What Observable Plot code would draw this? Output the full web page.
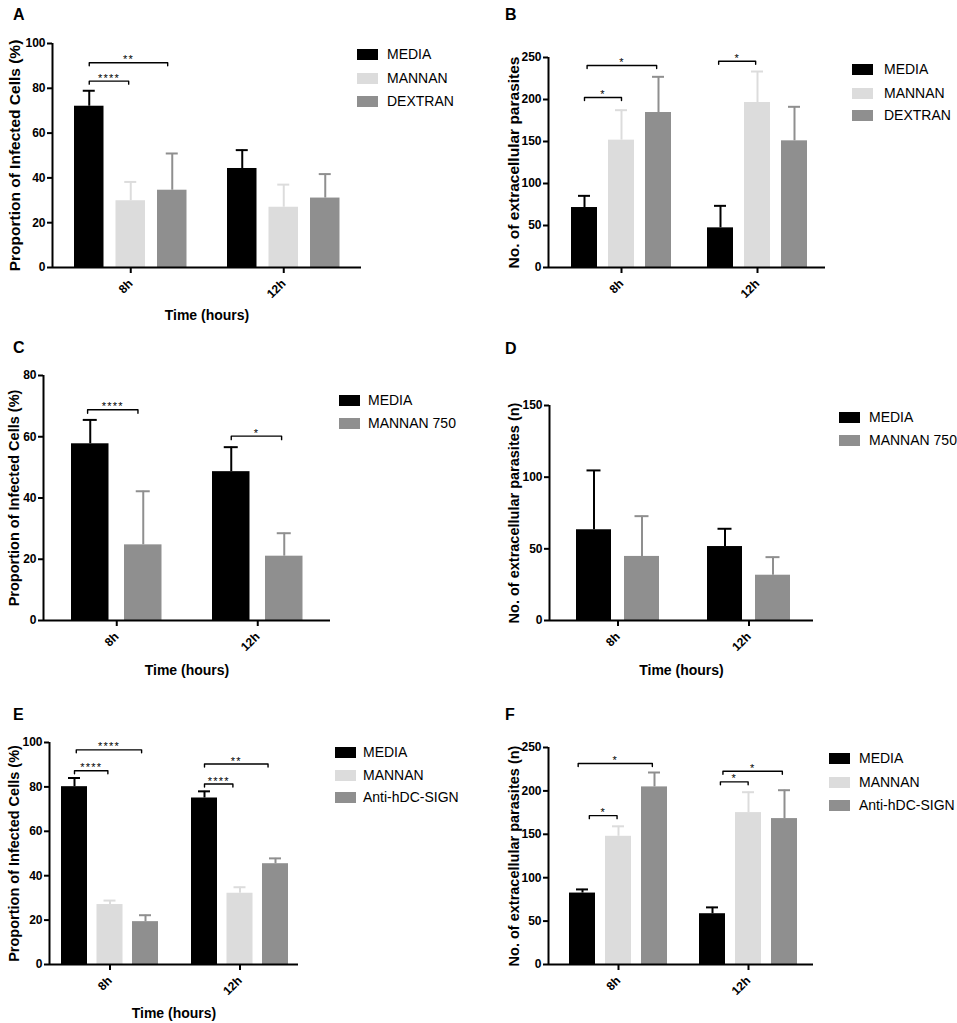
<!DOCTYPE html>
<html>
<head>
<meta charset="utf-8">
<script src="https://cdn.jsdelivr.net/npm/d3@7"></script>
<script src="https://cdn.jsdelivr.net/npm/@observablehq/plot@0.6"></script>
<style>
  html, body { margin: 0; padding: 0; background: #fff; }
  #fig { position: relative; width: 957px; height: 1023px; overflow: hidden; font-family: "Liberation Sans", Arial, sans-serif; color: #000; }
  #fig svg { position: absolute; overflow: visible; }
  .letter { position: absolute; font-weight: bold; font-size: 16px; line-height: 16px; }
  .sw { position: absolute; width: 21px; height: 11px; }
  .lt { position: absolute; font-size: 14px; line-height: 14px; white-space: nowrap; }
  g[aria-label="text"] { letter-spacing: 1.2px; }
</style>
</head>
<body>
<div id="fig"></div>
<script>
// ---------------- DATA ----------------
const times = ["8h", "12h"];

// Panel A
const groupsA = ["MEDIA", "MANNAN", "DEXTRAN"];
const meanA = [[72.0, 29.8, 34.5], [44.2, 26.9, 31.0]];
const sdA   = [[6.9, 8.4, 16.4], [8.2, 10.1, 10.7]];
const ticksA = [0, 20, 40, 60, 80, 100];
const sigA = [["8h", 0, 0.95, 83.2, "****"], ["8h", 0, 1.89, 91.4, "**"]];

// Panel B
const groupsB = ["MEDIA", "MANNAN", "DEXTRAN"];
const meanB = [[71.4, 151.6, 184.5], [47.2, 196.4, 150.8]];
const sdB   = [[13.9, 35.7, 42.5], [26.2, 36.9, 40.5]];
const ticksB = [0, 50, 100, 150, 200, 250];
const sigB = [["8h", 0, 1.0, 202.4, "*"], ["8h", 0.07, 1.95, 240.5, "*"], ["12h", -0.05, 0.95, 245.6, "*"]];

// Panel C
const groupsC = ["MEDIA", "MANNAN 750"];
const meanC = [[57.7, 24.7], [48.6, 21.0]];
const sdC   = [[7.8, 17.5], [8.0, 7.5]];
const ticksC = [0, 20, 40, 60, 80];
const sigC = [["8h", -0.05, 0.9, 68.8, "****"], ["12h", 0, 0.95, 60.2, "*"]];

// Panel D
const groupsD = ["MEDIA", "MANNAN 750"];
const meanD = [[63.3, 44.7], [51.6, 31.6]];
const sdD   = [[41.4, 28.1], [12.4, 12.6]];
const ticksD = [0, 50, 100, 150];
const sigD = [];

// Panel E
const groupsE = ["MEDIA", "MANNAN", "Anti-hDC-SIGN"];
const meanE = [[80.1, 27.0, 19.3], [75.0, 32.1, 45.4]];
const sdE   = [[3.9, 1.8, 2.9], [3.0, 2.7, 2.4]];
const ticksE = [0, 20, 40, 60, 80, 100];
const sigE = [["8h", 0, 0.94, 87.3, "****"], ["8h", 0.05, 1.89, 96.7, "****"],
              ["12h", 0, 0.8, 81.3, "****"], ["12h", 0, 1.79, 90.3, "**"]];

// Panel F
const groupsF = ["MEDIA", "MANNAN", "Anti-hDC-SIGN"];
const meanF = [[82.3, 147.7, 204.6], [58.5, 175.0, 168.1]];
const sdF   = [[4.2, 11.5, 16.6], [7.3, 23.5, 32.7]];
const ticksF = [0, 50, 100, 150, 200, 250];
const sigF = [["8h", 0.19, 0.96, 171.5, "*"], ["8h", -0.12, 1.94, 231.5, "*"],
              ["12h", 0.22, 0.99, 210.4, "*"], ["12h", 0.29, 1.94, 222.7, "*"]];

const yTitleInf = "Proportion of Infected Cells (%)";
const yTitlePar = "No. of extracellular parasites";
const yTitleParN = "No. of extracellular parasites (n)";
const xTitle = "Time (hours)";

// ---------------- STYLE / LAYOUT ----------------
const BLACK = "#000000", LIGHT = "#dcdcdc", GREY = "#8f8f8f";
const col3 = [BLACK, LIGHT, GREY];
const col2 = [BLACK, GREY];

const layouts = {
  A: {svgLeft: 0, svgTop: 25, svgW: 380, svgH: 305, axL: 52, axR: 361, yTop: 43, y0: 267, g1L: 74, stride: 41.5, barW: 29.5, gStride: 153, cap: 12, sigTick: 3, yLabOff: 44, yLabSize: 15.5, xLabOff: 52,
      letter: [13, 15], legend: {left: 357, rows: [54, 78, 101], text: 387}},
  B: {svgLeft: 480, svgTop: 25, svgW: 360, svgH: 305, axL: 548, axR: 825, yTop: 57, y0: 267, g1L: 571, stride: 37, barW: 26, gStride: 136, cap: 12, sigTick: 3, yLabOff: 41, yLabSize: 15.5, xLabOff: 52,
      letter: [505, 15], legend: {left: 852, rows: [69, 93, 115], text: 884}},
  C: {svgLeft: 0, svgTop: 360, svgW: 350, svgH: 330, axL: 43, axR: 330, yTop: 375, y0: 620, g1L: 71, stride: 53, barW: 37.5, gStride: 141, cap: 14, sigTick: 3.5, yLabOff: 35, yLabSize: 14.5, xLabOff: 54,
      letter: [13, 348], legend: {left: 339, rows: [400, 423], text: 368}},
  D: {svgLeft: 480, svgTop: 360, svgW: 350, svgH: 330, axL: 549, axR: 813, yTop: 405, y0: 620, g1L: 576, stride: 48, barW: 35, gStride: 131, cap: 14, sigTick: 3.5, yLabOff: 41, yLabSize: 14.5, xLabOff: 54,
      letter: [505, 349], legend: {left: 839, rows: [417, 440], text: 869}},
  E: {svgLeft: 0, svgTop: 725, svgW: 320, svgH: 298, axL: 49, axR: 298, yTop: 742, y0: 964, g1L: 61, stride: 35.5, barW: 26, gStride: 130, cap: 12, sigTick: 3, yLabOff: 41, yLabSize: 14.5, xLabOff: 53,
      letter: [13, 715], legend: {left: 335, rows: [752, 775, 797], text: 363}},
  F: {svgLeft: 480, svgTop: 725, svgW: 350, svgH: 298, axL: 548, axR: 813, yTop: 747, y0: 964, g1L: 569, stride: 36, barW: 26, gStride: 130, cap: 12, sigTick: 3, yLabOff: 40, yLabSize: 14.5, xLabOff: 53,
      letter: [505, 715], legend: {left: 829, rows: [758, 782, 805], text: 859}}
};

const panels = [
  {id: "A", groups: groupsA, colors: col3, means: meanA, sds: sdA, ticks: ticksA, yLabel: yTitleInf, xLabel: xTitle, sigs: sigA},
  {id: "B", groups: groupsB, colors: col3, means: meanB, sds: sdB, ticks: ticksB, yLabel: yTitlePar, xLabel: null, sigs: sigB},
  {id: "C", groups: groupsC, colors: col2, means: meanC, sds: sdC, ticks: ticksC, yLabel: yTitleInf, xLabel: xTitle, sigs: sigC},
  {id: "D", groups: groupsD, colors: col2, means: meanD, sds: sdD, ticks: ticksD, yLabel: yTitleParN, xLabel: xTitle, sigs: sigD},
  {id: "E", groups: groupsE, colors: col3, means: meanE, sds: sdE, ticks: ticksE, yLabel: yTitleInf, xLabel: xTitle, sigs: sigE},
  {id: "F", groups: groupsF, colors: col3, means: meanF, sds: sdF, ticks: ticksF, yLabel: yTitleParN, xLabel: null, sigs: sigF}
];

const fig = document.getElementById("fig");
const FONT = '"Liberation Sans", Arial, sans-serif';

function drawPanel(cfg) {
  const L = layouts[cfg.id];
  const {groups, colors, means, sds, ticks} = cfg;
  const k = groups.length;
  const yMax = ticks[ticks.length - 1];

  // x is measured in "bar slots": one unit = distance between neighbouring bars
  const G = L.gStride / L.stride;
  const xMin = -(L.g1L - L.axL + L.barW / 2) / L.stride;
  const xMax = xMin + (L.axR - L.axL) / L.stride;
  const hw = L.barW / (2 * L.stride);
  const capHalf = L.cap / 2 / L.stride;
  const tickLen = L.sigTick * yMax / (L.y0 - L.yTop);

  const rows = [];
  times.forEach((t, ti) => groups.forEach((g, gi) => rows.push({
    time: t, group: g, pos: ti * G + gi, mean: means[ti][gi], top: means[ti][gi] + sds[ti][gi]
  })));
  const centers = times.map((t, ti) => ti * G + (k - 1) / 2);

  const bracketPts = [];
  cfg.sigs.forEach(([t, a, b, lv], j) => {
    const off = times.indexOf(t) * G;
    [[a, lv - tickLen], [a, lv], [b, lv], [b, lv - tickLen]].forEach(([x, y]) => bracketPts.push({id: j, x: off + x, y}));
  });
  const sigText = cfg.sigs.map(([t, a, b, lv, lab]) => ({x: times.indexOf(t) * G + (a + b) / 2, y: lv, label: lab}));

  const marks = [
    Plot.rectY(rows, {x1: d => d.pos - hw, x2: d => d.pos + hw, y1: 0, y2: "mean", fill: "group"}),
    Plot.ruleX(rows, {x: "pos", y1: "mean", y2: "top", stroke: "group", strokeWidth: 2}),
    Plot.ruleY(rows, {x1: d => d.pos - capHalf, x2: d => d.pos + capHalf, y: "top", stroke: "group", strokeWidth: 2}),
    Plot.line(bracketPts, {x: "x", y: "y", z: "id", stroke: "black", strokeWidth: 1.4}),
    Plot.text(sigText, {x: "x", y: "y", text: "label", dy: -3, fontSize: 11, fontWeight: "normal"}),
    Plot.ruleY([0], {strokeWidth: 2}),
    Plot.ruleX([xMin], {strokeWidth: 2}),
    Plot.axisY({ticks, tickSize: 5, tickPadding: 2, strokeWidth: 2, label: null, fontSize: 12}),
    Plot.axisY({ticks: [], tickSize: 0, label: cfg.yLabel, labelAnchor: "center", labelOffset: L.yLabOff, fontSize: L.yLabSize, labelArrow: "none"}),
    Plot.axisX({ticks: centers, tickFormat: d => times[centers.indexOf(d)], tickSize: 6, tickPadding: 8, tickRotate: -45, strokeWidth: 2, label: null, fontSize: 12})
  ];
  if (cfg.xLabel) {
    marks.push(Plot.axisX({ticks: [], tickSize: 0, label: cfg.xLabel, labelAnchor: "center", labelOffset: L.xLabOff, fontSize: 14, labelArrow: "none"}));
  }

  const svg = Plot.plot({
    width: L.svgW,
    height: L.svgH,
    marginLeft: L.axL - L.svgLeft,
    marginRight: L.svgLeft + L.svgW - L.axR,
    marginTop: L.yTop - L.svgTop,
    marginBottom: L.svgTop + L.svgH - L.y0,
    x: {type: "linear", domain: [xMin, xMax]},
    y: {domain: [0, yMax]},
    color: {domain: groups, range: colors},
    style: {fontFamily: FONT, fontSize: "12px", fontWeight: "bold", color: "#000", background: "transparent"},
    marks
  });
  svg.style.left = L.svgLeft + "px";
  svg.style.top = L.svgTop + "px";
  fig.appendChild(svg);

  const let_ = document.createElement("div");
  let_.className = "letter";
  let_.textContent = cfg.id;
  let_.style.left = L.letter[0] + "px";
  let_.style.top = (L.letter[1] - 8) + "px";
  fig.appendChild(let_);

  groups.forEach((g, gi) => {
    const cy = L.legend.rows[gi];
    const sw = document.createElement("div");
    sw.className = "sw";
    sw.style.left = L.legend.left + "px";
    sw.style.top = (cy - 5.5) + "px";
    sw.style.background = colors[gi];
    fig.appendChild(sw);
    const t = document.createElement("div");
    t.className = "lt";
    t.textContent = g;
    t.style.left = L.legend.text + "px";
    t.style.top = (cy - 7) + "px";
    fig.appendChild(t);
  });
}

panels.forEach(drawPanel);
</script>
</body>
</html>
